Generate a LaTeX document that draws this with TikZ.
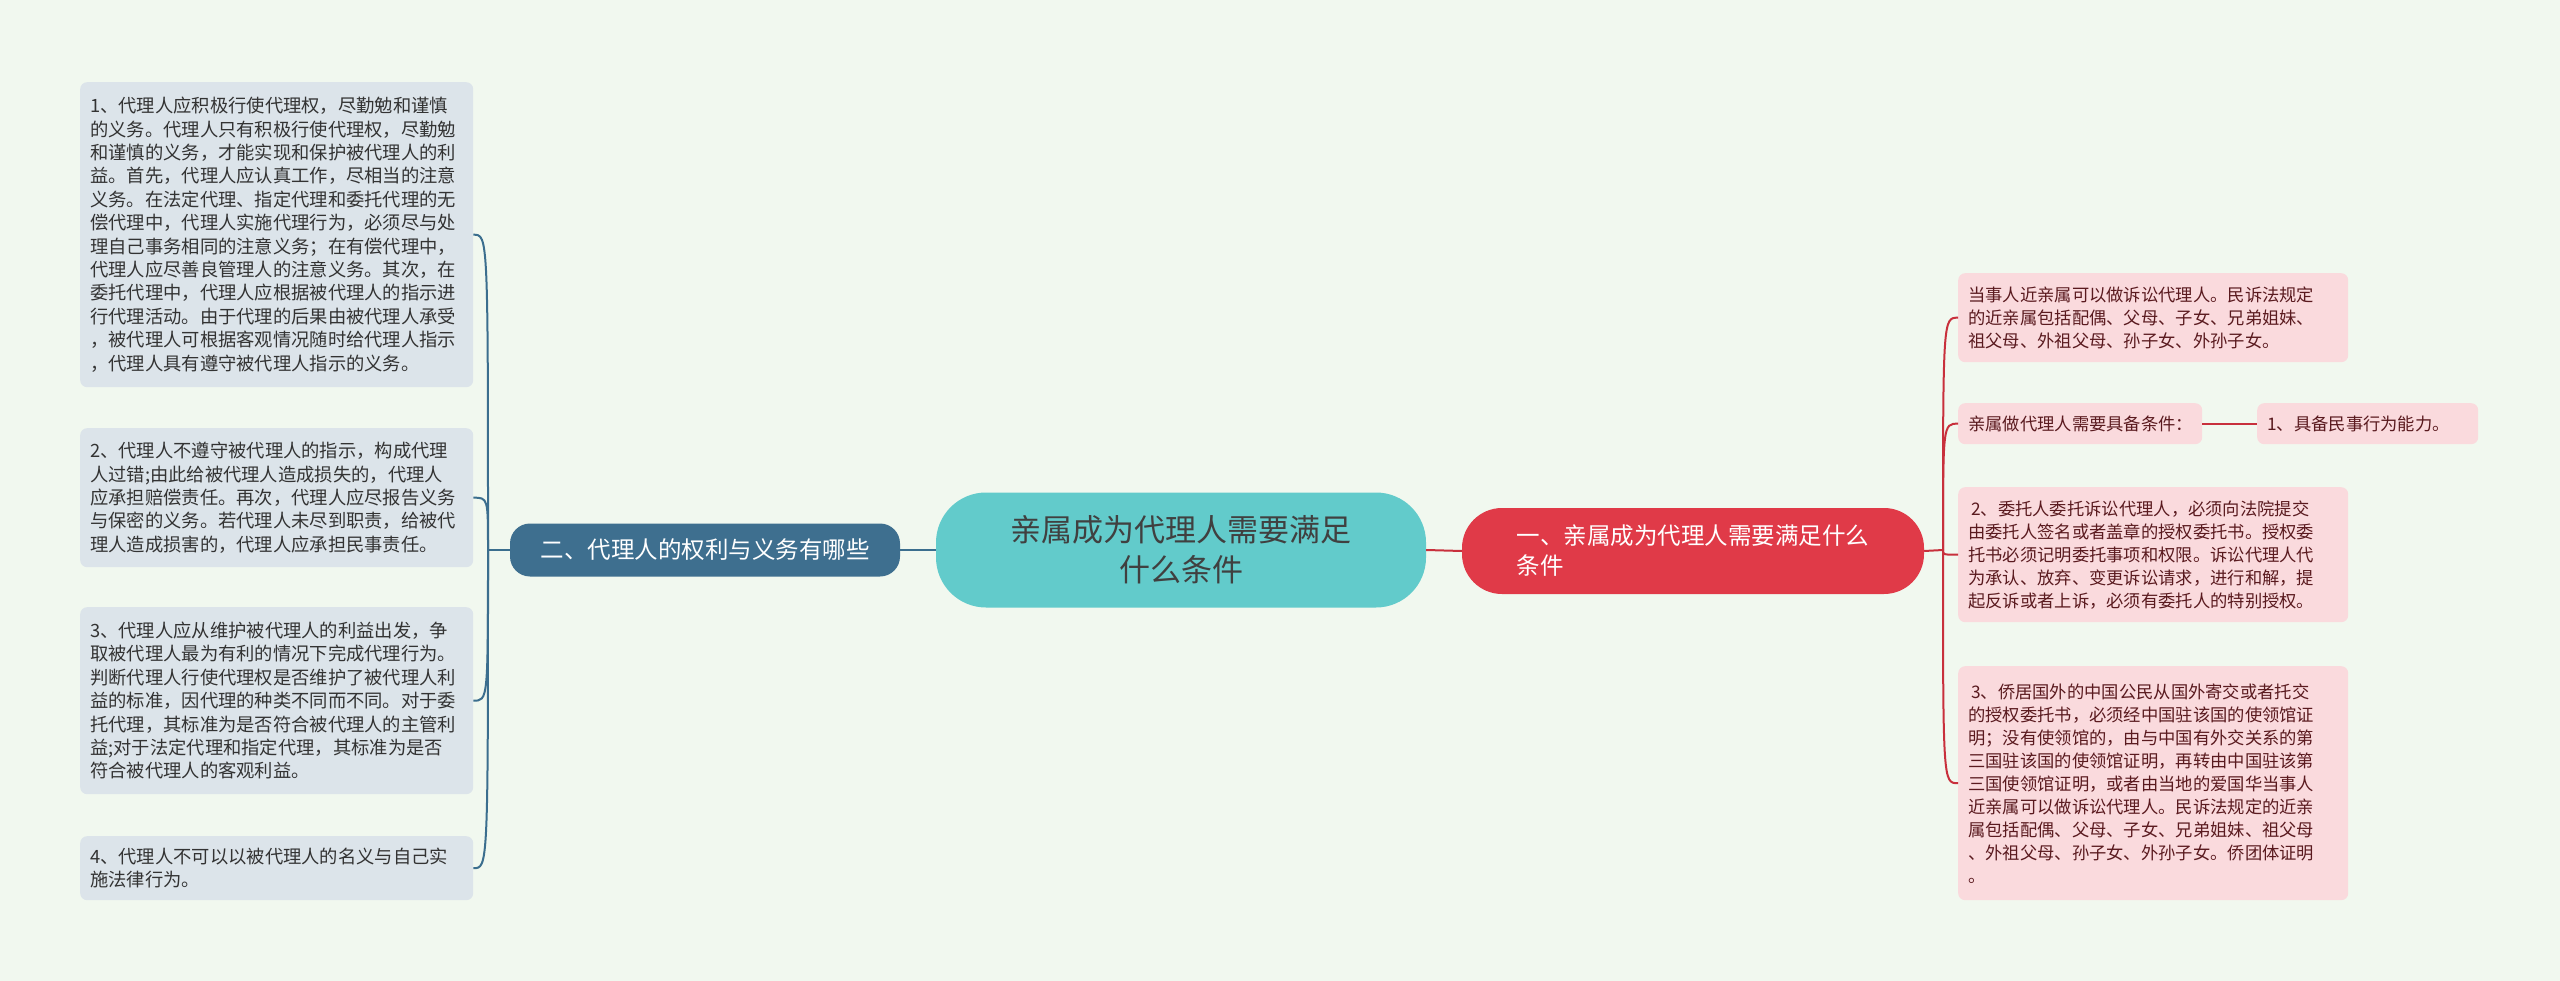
\documentclass[tikz,border=0pt]{standalone}
\usepackage{fontspec}
\setmainfont{Noto Sans CJK SC}
\definecolor{bg}{HTML}{F1F8EF}
\definecolor{lbox}{HTML}{DCE4EA}
\definecolor{rbox}{HTML}{FADADD}
\definecolor{lline}{HTML}{3B6E8E}
\definecolor{rline}{HTML}{C8303C}
\definecolor{ctr}{HTML}{62CBCB}
\definecolor{rmain}{HTML}{E03A48}
\definecolor{lmain}{HTML}{3E6F8F}
\definecolor{rtext}{HTML}{5A1A1F}
\begin{document}
\begin{tikzpicture}[x=1pt,y=-1pt,
  lb/.style={fill=lbox,rounded corners=7pt,anchor=north west,align=left,inner xsep=10pt,inner ysep=3pt,text=black!80,font=\fontsize{18.3}{23.4}\selectfont},
  rb/.style={fill=rbox,rounded corners=7pt,anchor=north west,align=left,inner xsep=10pt,inner ysep=3pt,text=rtext,font=\fontsize{17.3}{23}\selectfont},
  lc/.style={draw=lline,line width=2pt},
  rc/.style={draw=rline,line width=2pt}]
\fill[bg] (0,0) rectangle (2560,981);
\useasboundingbox (0,0) rectangle (2560,981);
% center
\node[fill=ctr,rounded corners=50pt,minimum width=490pt,minimum height=115pt,align=center,font=\fontsize{31}{40}\selectfont,text=black!75] (c) at (1181,550) {亲属成为代理人需要满足\\什么条件};
\node[fill=lmain,rounded corners=20pt,minimum width=390pt,minimum height=53pt,font=\fontsize{23.5}{28}\selectfont,text=white] (lm) at (705,550) {二、代理人的权利与义务有哪些};
\node[fill=rmain,rounded corners=40pt,minimum width=462pt,minimum height=86pt,align=left,font=\fontsize{23.5}{30}\selectfont,text=white] (rm) at (1693,551) {一、亲属成为代理人需要满足什么\\条件};
% left boxes
\node[lb,text width=373pt,minimum height=305pt] (l1) at (80,82) {1、代理人应积极行使代理权，尽勤勉和谨慎\\的义务。代理人只有积极行使代理权，尽勤勉\\和谨慎的义务，才能实现和保护被代理人的利\\益。首先，代理人应认真工作，尽相当的注意\\义务。在法定代理、指定代理和委托代理的无\\偿代理中，代理人实施代理行为，必须尽与处\\理自己事务相同的注意义务；在有偿代理中，\\代理人应尽善良管理人的注意义务。其次，在\\委托代理中，代理人应根据被代理人的指示进\\行代理活动。由于代理的后果由被代理人承受\\，被代理人可根据客观情况随时给代理人指示\\，代理人具有遵守被代理人指示的义务。};
\node[lb,text width=373pt,minimum height=139pt] (l2) at (80,428) {2、代理人不遵守被代理人的指示，构成代理\\人过错;由此给被代理人造成损失的，代理人\\应承担赔偿责任。再次，代理人应尽报告义务\\与保密的义务。若代理人未尽到职责，给被代\\理人造成损害的，代理人应承担民事责任。};
\node[lb,text width=373pt,minimum height=187pt] (l3) at (80,607) {3、代理人应从维护被代理人的利益出发，争\\取被代理人最为有利的情况下完成代理行为。\\判断代理人行使代理权是否维护了被代理人利\\益的标准，因代理的种类不同而不同。对于委\\托代理，其标准为是否符合被代理人的主管利\\益;对于法定代理和指定代理，其标准为是否\\符合被代理人的客观利益。};
\node[lb,text width=373pt,minimum height=64pt] (l4) at (80,836) {4、代理人不可以以被代理人的名义与自己实\\施法律行为。};
% right boxes
\node[rb,text width=370pt,minimum height=89pt] (r1) at (1958,273) {当事人近亲属可以做诉讼代理人。民诉法规定\\的近亲属包括配偶、父母、子女、兄弟姐妹、\\祖父母、外祖父母、孙子女、外孙子女。};
\node[rb,text width=224pt,minimum height=41pt] (r2) at (1958,403) {亲属做代理人需要具备条件：};
\node[rb,text width=201pt,minimum height=41pt] (r2b) at (2257,403) {1、具备民事行为能力。};
\node[rb,text width=370pt,minimum height=135pt] (r3) at (1958,487) {\,2、委托人委托诉讼代理人，必须向法院提交\\由委托人签名或者盖章的授权委托书。授权委\\托书必须记明委托事项和权限。诉讼代理人代\\为承认、放弃、变更诉讼请求，进行和解，提\\起反诉或者上诉，必须有委托人的特别授权。};
\node[rb,text width=370pt,minimum height=234pt] (r4) at (1958,666) {\,3、侨居国外的中国公民从国外寄交或者托交\\的授权委托书，必须经中国驻该国的使领馆证\\明；没有使领馆的，由与中国有外交关系的第\\三国驻该国的使领馆证明，再转由中国驻该第\\三国使领馆证明，或者由当地的爱国华当事人\\近亲属可以做诉讼代理人。民诉法规定的近亲\\属包括配偶、父母、子女、兄弟姐妹、祖父母\\、外祖父母、孙子女、外孙子女。侨团体证明\\。};
% connectors
\coordinate (lh) at (488,550);
\coordinate (rh) at (1943,550);
\draw[lc] (c.west) -- (lm.east);
\draw[lc] (lm.west) -- (lh);
\foreach \b in {l1,l2,l3,l4}{
  \draw[lc] (lh) .. controls (lh |- \b.east) .. (\b.east);
}
\draw[rc] (c.east) -- (rm.west);
\draw[rc] (rm.east) -- (rh);
\foreach \b in {r1,r2,r3,r4}{
  \draw[rc] (rh) .. controls (rh |- \b.west) .. (\b.west);
}
\draw[rc] (r2.east) -- (r2b.west);
\end{tikzpicture}
\end{document}
